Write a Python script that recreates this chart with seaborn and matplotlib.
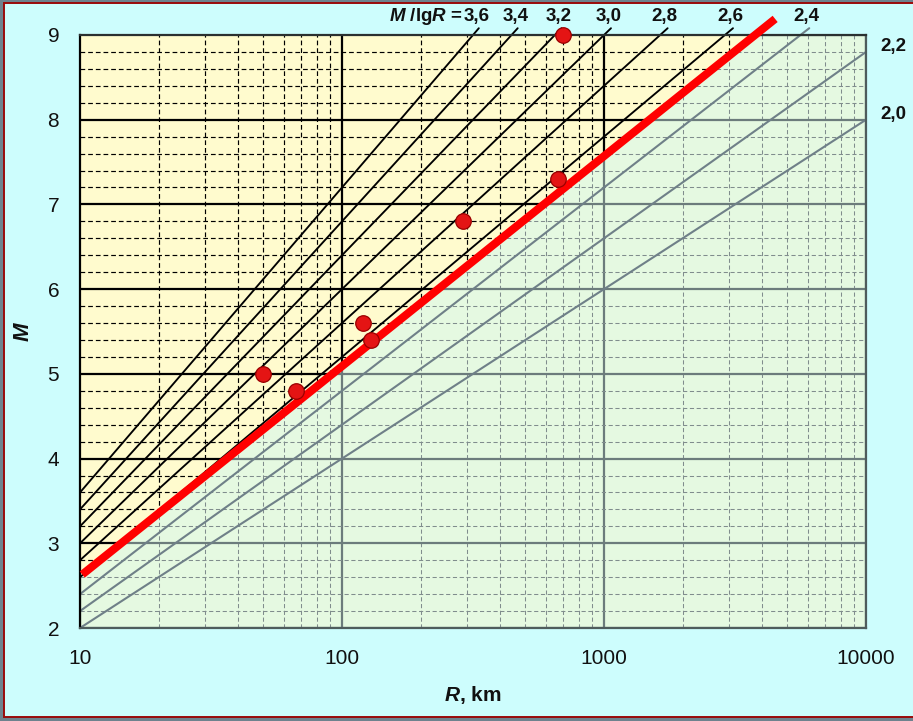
import numpy as np
import pandas as pd
import matplotlib
matplotlib.use("Agg")
import matplotlib.pyplot as plt
from matplotlib.patches import Rectangle
from matplotlib.ticker import LogLocator, FixedLocator, MultipleLocator, FuncFormatter, NullFormatter
import seaborn as sns

# M / lg R ratio lines
ratio_k = [3.6, 3.4, 3.2, 3.0, 2.8, 2.6, 2.4, 2.2, 2.0]
ratio_labels = ["3,6", "3,4", "3,2", "3,0", "2,8", "2,6", "2,4", "2,2", "2,0"]
dark_k = [3.6, 3.4, 3.2, 3.0, 2.8, 2.6]

# observed events: distance R (km) and magnitude M
quake_R = [50, 67, 120, 129, 290, 665, 695]
quake_M = [5.0, 4.8, 5.6, 5.4, 6.8, 7.3, 9.0]

# fitted boundary M = a + b*lgR
fit_a = 0.13
fit_b = 2.48
fit_R = [10.2, 4500]

x_ticks = [10, 100, 1000, 10000]
y_ticks = [2, 3, 4, 5, 6, 7, 8, 9]

sns.set_theme(style="white")
plt.rcParams["font.family"] = ["Liberation Sans", "DejaVu Sans"]
plt.rcParams["mathtext.fontset"] = "custom"
plt.rcParams["mathtext.it"] = "Liberation Sans:italic:bold"
plt.rcParams["mathtext.rm"] = "Liberation Sans:bold"
plt.rcParams["mathtext.bf"] = "Liberation Sans:bold"

W, H = 913, 721
fig = plt.figure(figsize=(W / 100, H / 100), dpi=100)
fig.patch.set_facecolor("#6E828E")
fig.patches.append(Rectangle((4 / W, 4 / H), 1.2, (H - 7) / H, transform=fig.transFigure,
                             facecolor="#CDFDFD", edgecolor="#9A0A0A", lw=1.4, zorder=-5))

ax = fig.add_axes([80 / W, 1 - 628 / H, (866 - 80) / W, (628 - 35) / H])
ax.set_zorder(2)
ax.set_xscale("log")
ax.set_xlim(10, 10000)
ax.set_ylim(2, 9)
ax.set_facecolor("#E5F9E1")
ax.set_axisbelow(True)

ax.xaxis.set_major_locator(FixedLocator(x_ticks))
ax.xaxis.set_minor_locator(LogLocator(base=10, subs=np.arange(2, 10)))
ax.xaxis.set_major_formatter(FuncFormatter(lambda v, p: f"{v:.0f}"))
ax.xaxis.set_minor_formatter(NullFormatter())
ax.yaxis.set_major_locator(FixedLocator(y_ticks))
ax.yaxis.set_minor_locator(MultipleLocator(0.2))

grey_major = "#6C7C7C"
grey_minor = "#808D8D"
ax.grid(which="major", color=grey_major, lw=1.6, ls="-")
ax.grid(which="minor", color=grey_minor, lw=0.75, ls=(0, (4, 2.5)))

ax.tick_params(axis="both", which="major", direction="out", length=5, width=1.2,
               color="#333333", labelsize=15, labelcolor="#111111")
ax.tick_params(axis="x", which="major", pad=10)
ax.tick_params(axis="y", which="major", pad=10)
ax.tick_params(which="minor", length=0)

# region above the fitted boundary
lg_top = (9 - fit_a) / fit_b
R_top = 10 ** lg_top
poly = ax.fill([10, 10, R_top], [fit_a + fit_b, 9, 9], color="#FFFBCE", zorder=0.6, lw=0)[0]

# dark grid inside that region
for y in y_ticks[1:-1]:
    ln = ax.axhline(y, color="black", lw=1.6, zorder=0.7)
    ln.set_clip_path(poly)
for y in np.arange(2.2, 9.0, 0.2):
    if abs(y - round(y)) < 1e-6:
        continue
    ln = ax.axhline(y, color="black", lw=0.85, ls=(0, (4, 2.5)), zorder=0.7)
    ln.set_clip_path(poly)
for dec in [10, 100, 1000]:
    for s in range(1, 10):
        xv = dec * s
        if xv <= 10:
            continue
        major = s == 1
        ln = ax.axvline(xv, color="black", lw=1.6 if major else 0.85,
                        ls="-" if major else (0, (4, 2.5)), zorder=0.7)
        ln.set_clip_path(poly)

# ratio lines M = k * lgR
rows = []
for k, lab in zip(ratio_k, ratio_labels):
    r_end = min(10000, 10 ** (9.08 / k))
    for r in (10, r_end):
        rows.append({"R": r, "M": k * np.log10(r), "k": lab})
lines_df = pd.DataFrame(rows)
for k, lab in zip(ratio_k, ratio_labels):
    sub = lines_df[lines_df["k"] == lab]
    dark = k in dark_k
    sns.lineplot(data=sub, x="R", y="M", ax=ax, color="black" if dark else "#6F8088",
                 lw=1.35 if dark else 1.5, estimator=None, sort=False, zorder=2)
    ax.lines[-1].set_clip_on(False)

# labels for the ratio lines
for k, lab in zip(ratio_k, ratio_labels):
    if k >= 2.4:
        xr = 10 ** (9.05 / k)
        ax.annotate(lab, (xr, 9.0), xytext=(0, 13), textcoords="offset points",
                    ha="center", va="center", fontsize=13.5, fontweight="bold",
                    color="#111111", annotation_clip=False)
    else:
        ax.annotate(lab, (10000, k * 4), xytext=(20, 4), textcoords="offset points",
                    ha="center", va="center", fontsize=13.5, fontweight="bold",
                    color="#111111", annotation_clip=False)
ax.annotate(r"$M$ /lg$R$ =", (10 ** (9.05 / 3.6), 9.0), xytext=(-10, 13),
            textcoords="offset points", ha="right", va="center", fontsize=13.5,
            fontweight="bold", color="#111111", annotation_clip=False)

# fitted boundary
fit_df = pd.DataFrame({"R": fit_R, "M": [fit_a + fit_b * np.log10(r) for r in fit_R]})
sns.lineplot(data=fit_df, x="R", y="M", ax=ax, color="#FF0000", lw=5.8,
             estimator=None, sort=False, zorder=3)
ax.lines[-1].set_clip_on(False)
ax.lines[-1].set_solid_capstyle("butt")

# events
ev_df = pd.DataFrame({"R": quake_R, "M": quake_M})
sns.scatterplot(data=ev_df, x="R", y="M", ax=ax, s=125, color="#E41414",
                edgecolor="#9A0000", linewidth=0.9, zorder=4, clip_on=False)

for side in ["top", "right", "bottom"]:
    ax.spines[side].set_color("#4E5C5C")
    ax.spines[side].set_linewidth(1.6)
ax.spines["top"].set_color("#2A3030")
ax.spines["left"].set_color("black")
ax.spines["left"].set_linewidth(1.6)

ax.set_xlabel(r"$R$, km", fontsize=15, fontweight="bold", color="#111111", labelpad=12)
ax.set_ylabel(r"$M$", fontsize=16, fontweight="bold", color="#111111", labelpad=10)

fig.savefig("out.png", dpi=100, facecolor=fig.get_facecolor())
